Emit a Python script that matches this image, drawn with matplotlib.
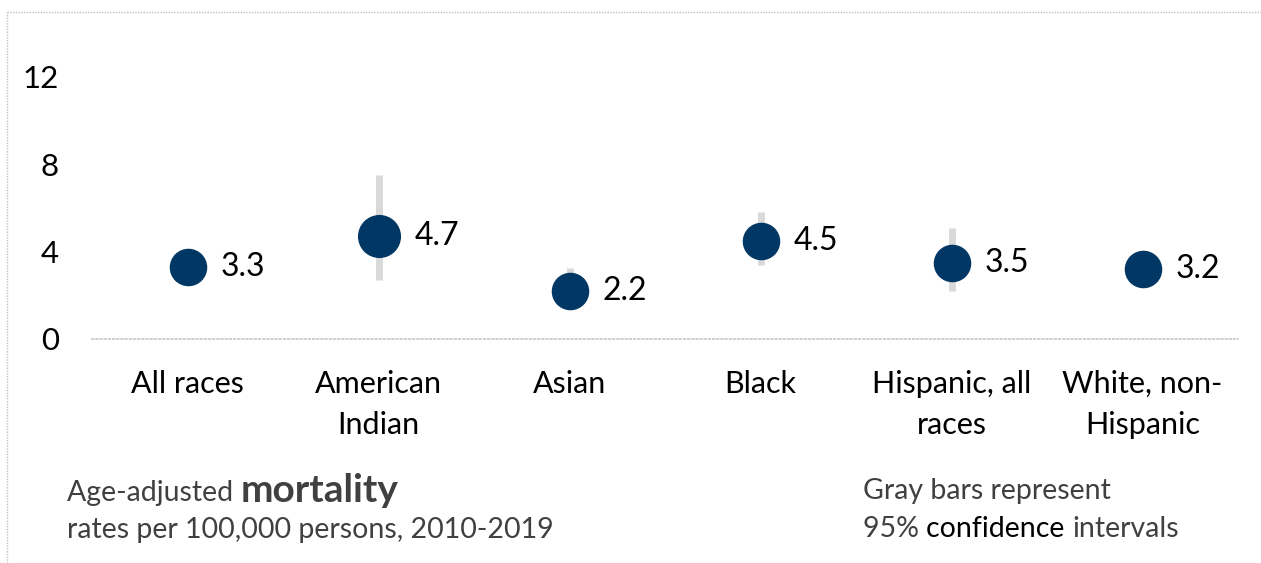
import matplotlib
matplotlib.use("Agg")
import matplotlib.pyplot as plt
from matplotlib.lines import Line2D

categories = ["All races", "American\nIndian", "Asian", "Black", "Hispanic, all\nraces", "White, non-\nHispanic"]
rates = [3.3, 4.7, 2.2, 4.5, 3.5, 3.2]
ci_low = [3.2, 2.7, 1.6, 3.4, 2.2, 3.1]
ci_high = [3.4, 7.5, 3.25, 5.8, 5.1, 3.3]
dot_sizes = [26, 30, 26, 26, 26, 26]
yticks = [0, 4, 8, 12]

FONT = ["Lato", "DejaVu Sans"]
plt.rcParams["font.family"] = FONT
NAVY = "#003764"
GRAY = "#d9d9d9"
TXT = "#404040"

fig = plt.figure(figsize=(12.61, 5.63), dpi=100)
ax = fig.add_axes([92/1261, 1-339/563, (1238-92)/1261, (339-77)/563])

x = list(range(len(categories)))
for i in x:
    ax.plot([i, i], [ci_low[i], ci_high[i]], color=GRAY, lw=5, solid_capstyle="butt", zorder=1)
    ax.plot(i, rates[i], "o", ms=dot_sizes[i], color=NAVY, mec=NAVY, zorder=2)
    ax.annotate(f"{rates[i]:.1f}", (i, rates[i]), xytext=(dot_sizes[i]*0.5 + 11, 0),
                textcoords="offset points", va="center", ha="left", fontsize=23, color="black")

ax.set_xlim(-0.5, len(categories) - 0.5)
ax.set_ylim(0, 12)
ax.set_yticks(yticks)
ax.set_yticklabels([str(t) for t in yticks], fontsize=22.5)
ax.set_xticks(x)
ax.set_xticklabels(categories, fontsize=22, linespacing=1.6, va="top")
ax.tick_params(axis="both", length=0)
ax.tick_params(axis="y", pad=24)
ax.tick_params(axis="x", pad=22)
for s in ["top", "right", "left"]:
    ax.spines[s].set_visible(False)
ax.spines["bottom"].set_color("#c8c8c8")
ax.spines["bottom"].set_linestyle((0, (1, 1.5)))
ax.spines["bottom"].set_linewidth(1.2)

# dotted frame
fig.add_artist(Line2D([7/1261, 1], [1-12/563, 1-12/563], transform=fig.transFigure,
                      color="#c0c0c0", lw=1, ls=(0, (1, 1))))
fig.add_artist(Line2D([7/1261, 7/1261], [0, 1-12/563], transform=fig.transFigure,
                      color="#c0c0c0", lw=1, ls=(0, (1, 1))))

# notes
NS = 20.5
t1 = fig.text(67/1261, 1-493/563, "Age-adjusted ", fontsize=NS, color=TXT, va="center", ha="left")
fig.canvas.draw()
bb = t1.get_window_extent()
fig.text(bb.x1/1261, 1-490/563, "mortality", fontsize=28, fontweight="bold", color=TXT, va="center", ha="left")
fig.text(67/1261, 1-530/563, "rates per 100,000 persons, 2010-2019", fontsize=NS, color=TXT, va="center", ha="left")

fig.text(863/1261, 1-491/563, "Gray bars represent", fontsize=NS, color=TXT, va="center", ha="left")
t2 = fig.text(863/1261, 1-529/563, "95% ", fontsize=NS, color=TXT, va="center", ha="left")
fig.canvas.draw()
b2 = t2.get_window_extent()
t3 = fig.text(b2.x1/1261, 1-529/563, "confidence ", fontsize=NS, color="black", va="center", ha="left")
fig.canvas.draw()
b3 = t3.get_window_extent()
fig.text(b3.x1/1261, 1-529/563, "intervals", fontsize=NS, color=TXT, va="center", ha="left")

fig.savefig("out.png", dpi=100)
